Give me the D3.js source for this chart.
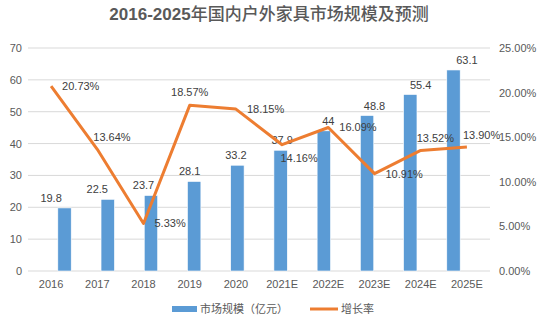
<!DOCTYPE html>
<html>
<head>
<meta charset="utf-8">
<script src="https://cdn.jsdelivr.net/npm/d3@7"></script>
<style>
body { margin: 0; background: #fff; }
text { font-family: "Liberation Sans", Arial, "Noto Sans CJK SC", sans-serif; }
</style>
</head>
<body>
<div id="chart"></div>
<script>
var years = ["2016", "2017", "2018", "2019", "2020", "2021E", "2022E", "2023E", "2024E", "2025E"];
var marketSize = [19.8, 22.5, 23.7, 28.1, 33.2, 37.9, 44, 48.8, 55.4, 63.1];
var growthRate = [20.73, 13.64, 5.33, 18.57, 18.15, 14.16, 16.09, 10.91, 13.52, 13.90];
var leftTicks = [0, 10, 20, 30, 40, 50, 60, 70];
var rightTicks = [0, 5, 10, 15, 20, 25];

// where each growth label sits relative to its point
var labelPlace = {"2016": "right", "2017": "upright", "2018": "right", "2019": "above", "2020": "right",
                  "2021E": "below", "2022E": "right", "2023E": "right", "2024E": "upright", "2025E": "upright"};

var width = 538, height = 324;
var plotLeft = 28, plotRight = 490, plotTop = 48, plotBottom = 271;

var svg = d3.select("#chart").append("svg")
			.attr("width", width)
			.attr("height", height);

var title = svg.append("text")
	.attr("x", 269)
	.attr("y", 20)
	.attr("text-anchor", "middle")
	.attr("font-size", "17px")
	.attr("fill", "#595959");
title.append("tspan").attr("font-weight", "bold").text("2016-2025");
title.append("tspan").attr("font-weight", "500").text("年国内户外家具市场规模及预测");

var x = d3.scaleBand().domain(years).range([plotLeft, plotRight]).padding(0.69);
var xBand = d3.scaleBand().domain(years).range([plotLeft, plotRight]);
var yLeft = d3.scaleLinear().domain([0, 70]).range([plotBottom, plotTop]);
var yRight = d3.scaleLinear().domain([0, 25]).range([plotBottom, plotTop]);

// gridlines
svg.append("g").selectAll("line")
	.data(leftTicks)
	.enter().append("line")
	.attr("x1", plotLeft)
	.attr("x2", plotRight)
	.attr("y1", function(d){ return yLeft(d); })
	.attr("y2", function(d){ return yLeft(d); })
	.attr("stroke", "#d9d9d9")
	.attr("stroke-width", 1);

// left axis
var leftAxis = svg.append("g")
	.attr("transform", "translate(" + (plotLeft - 6) + ",0)")
	.call(d3.axisLeft(yLeft).tickValues(leftTicks).tickSize(0).tickPadding(0));
leftAxis.select(".domain").remove();
leftAxis.selectAll("text").attr("font-size", "11px").attr("fill", "#595959");

// right axis
var rightAxis = svg.append("g")
	.attr("transform", "translate(" + (plotRight + 9) + ",0)")
	.call(d3.axisRight(yRight).tickValues(rightTicks).tickSize(0).tickPadding(0)
		.tickFormat(function(d){ return d.toFixed(2) + "%"; }));
rightAxis.select(".domain").remove();
rightAxis.selectAll("text").attr("font-size", "11px").attr("fill", "#595959");

// bottom axis
var bottomAxis = svg.append("g")
	.attr("transform", "translate(0," + plotBottom + ")")
	.call(d3.axisBottom(xBand).tickSize(0).tickPadding(9));
bottomAxis.select(".domain").remove();
bottomAxis.selectAll("text").attr("font-size", "11px").attr("fill", "#595959");

// bars
svg.append("g").selectAll("rect")
	.data(marketSize)
	.enter().append("rect")
	.attr("x", function(d, i){ return x(years[i]); })
	.attr("width", x.bandwidth())
	.attr("y", function(d){ return yLeft(d); })
	.attr("height", function(d){ return plotBottom - yLeft(d); })
	.attr("fill", "#5b9bd5")
	.attr("stroke", "#fff")
	.attr("stroke-width", 0.6);

svg.append("g").selectAll("text")
	.data(marketSize)
	.enter().append("text")
	.attr("x", function(d, i){ return xBand(years[i]) + xBand.bandwidth() / 2; })
	.attr("y", function(d){ return yLeft(d) - 6; })
	.attr("text-anchor", "middle")
	.attr("font-size", "11px")
	.attr("fill", "#404040")
	.text(function(d){ return d; });

// growth line
var cx = function(d, i){ return xBand(years[i]) + xBand.bandwidth() / 2; };
var line = d3.line()
	.x(cx)
	.y(function(d){ return yRight(d); });

svg.append("path")
	.datum(growthRate)
	.attr("d", line)
	.attr("fill", "none")
	.attr("stroke", "#ed7d31")
	.attr("stroke-width", 3)
	.attr("stroke-linejoin", "round");

svg.append("g").selectAll("text")
	.data(growthRate)
	.enter().append("text")
	.attr("x", function(d, i){
		var p = labelPlace[years[i]];
		if (p == "above") return cx(d, i);
		if (p == "below") return cx(d, i) + 17;
		if (p == "upright") return cx(d, i) - 4;
		return cx(d, i) + 11;
	})
	.attr("y", function(d, i){
		var p = labelPlace[years[i]];
		if (p == "above") return yRight(d) - 9;
		if (p == "below") return yRight(d) + 17;
		if (p == "upright") return yRight(d) - 8;
		return yRight(d) + 4;
	})
	.attr("text-anchor", function(d, i){
		var p = labelPlace[years[i]];
		return (p == "above" || p == "below") ? "middle" : "start";
	})
	.attr("font-size", "11px")
	.attr("fill", "#404040")
	.text(function(d){ return d.toFixed(2) + "%"; });

// legend
var legend = svg.append("g");
legend.append("rect")
	.attr("x", 172).attr("y", 306)
	.attr("width", 25).attr("height", 6)
	.attr("fill", "#5b9bd5");
legend.append("text")
	.attr("x", 200).attr("y", 313)
	.attr("font-size", "11px")
	.attr("fill", "#595959")
	.text("市场规模（亿元）");
legend.append("line")
	.attr("x1", 310).attr("x2", 338)
	.attr("y1", 309).attr("y2", 309)
	.attr("stroke", "#ed7d31")
	.attr("stroke-width", 3);
legend.append("text")
	.attr("x", 341).attr("y", 313)
	.attr("font-size", "11px")
	.attr("fill", "#595959")
	.text("增长率");
</script>
</body>
</html>
